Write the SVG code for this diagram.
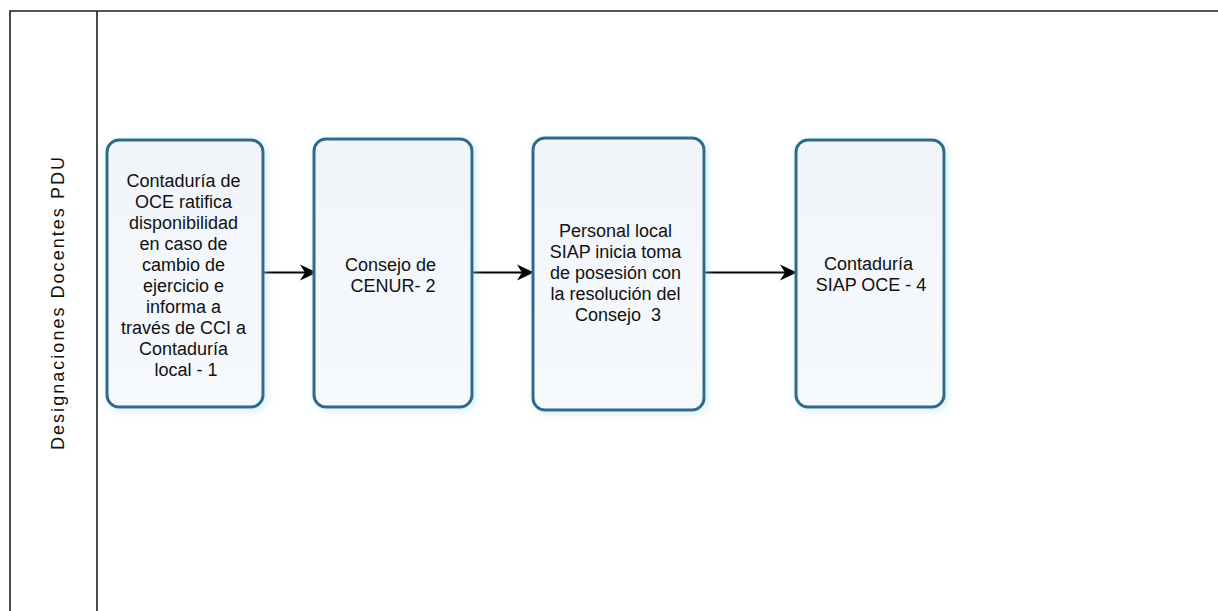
<svg xmlns="http://www.w3.org/2000/svg" width="1218" height="611" viewBox="0 0 1218 611">
<defs>
<style>
.frame{stroke:#1e1e1e;stroke-width:1.6;fill:none}
.box{fill:url(#boxfill);stroke:#2e6b8a;stroke-width:3;filter:url(#glow)}
.lbl{font-family:"Liberation Sans",Arial,sans-serif;font-size:18px;fill:#111;text-anchor:middle}
.conn{stroke:#000;stroke-width:2;fill:none;marker-end:url(#arrow)}
</style>
<linearGradient id="boxfill" x1="0" y1="0" x2="0" y2="1">
<stop offset="0" stop-color="#f1f5fa"/>
<stop offset="1" stop-color="#f6f9fc"/>
</linearGradient>
<filter id="glow" x="-20%" y="-20%" width="140%" height="140%">
<feGaussianBlur in="SourceAlpha" stdDeviation="4" result="b"/>
<feFlood flood-color="#a9dced" flood-opacity="0.55"/>
<feComposite in2="b" operator="in" result="s"/>
<feOffset in="s" dx="2" dy="2" result="o"/>
<feMerge><feMergeNode in="o"/><feMergeNode in="SourceGraphic"/></feMerge>
</filter>
<marker id="arrow" markerUnits="userSpaceOnUse" markerWidth="18" markerHeight="18" viewBox="0 0 18 18" refX="17" refY="9" orient="auto">
<path d="M0,1 L17,9 L0,17 L5,9 z" fill="#000"/>
</marker>
</defs>
<rect width="1218" height="611" fill="#fff"/>
<g id="lane">
<path class="frame" d="M10,611 V11 H1218"/>
<path class="frame" d="M97,11 V611"/>
<text class="lbl" transform="translate(64,303.5) rotate(-90)" textLength="293" lengthAdjust="spacing">Designaciones Docentes PDU</text>
</g>
<g id="connectors">
<path class="conn" d="M263,272.5 H317"/>
<path class="conn" d="M473,272.5 H534"/>
<path class="conn" d="M705,272.5 H797"/>
</g>
<g id="n1">
<rect class="box" x="107" y="140" width="156" height="267" rx="12"/>
<text class="lbl">
<tspan x="186" y="187">Contaduría de</tspan>
<tspan x="186" y="208">OCE ratifica</tspan>
<tspan x="186" y="229">disponibilidad</tspan>
<tspan x="186" y="250">en caso de</tspan>
<tspan x="186" y="271">cambio de</tspan>
<tspan x="186" y="292">ejercicio e</tspan>
<tspan x="186" y="313">informa a</tspan>
<tspan x="186" y="334">través de CCI a</tspan>
<tspan x="186" y="355">Contaduría</tspan>
<tspan x="186" y="376">local - 1</tspan>
</text>
</g>
<g id="n2">
<rect class="box" x="314" y="139" width="158" height="268" rx="12"/>
<text class="lbl">
<tspan x="393" y="271">Consejo de</tspan>
<tspan x="393" y="292">CENUR- 2</tspan>
</text>
</g>
<g id="n3">
<rect class="box" x="533" y="138" width="171" height="272" rx="12"/>
<text class="lbl">
<tspan x="618" y="237">Personal local</tspan>
<tspan x="618" y="258">SIAP inicia toma</tspan>
<tspan x="618" y="279">de posesión con</tspan>
<tspan x="618" y="300">la resolución del</tspan>
<tspan x="618" y="321">Consejo &#160;3</tspan>
</text>
</g>
<g id="n4">
<rect class="box" x="796" y="140" width="148" height="267" rx="12"/>
<text class="lbl">
<tspan x="871" y="270">Contaduría</tspan>
<tspan x="871" y="291">SIAP OCE - 4</tspan>
</text>
</g>
</svg>
